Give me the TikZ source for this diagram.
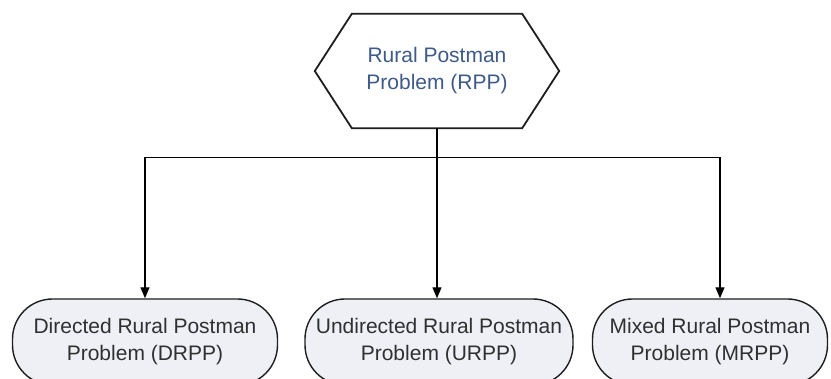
\documentclass[tikz,border=0pt]{standalone}
\usepackage{fontspec}
\setmainfont{Liberation Sans}
\usetikzlibrary{arrows.meta,calc}
\definecolor{toptext}{HTML}{3E5A88}
\definecolor{leaftext}{HTML}{303030}
\definecolor{leaffill}{HTML}{EEF0F6}
\definecolor{edge}{HTML}{1E1E1E}
\tikzset{
  hexlabel/.style={minimum width=244pt, minimum height=114pt, inner sep=0pt,
    align=center, text=toptext, font=\fontsize{21pt}{27pt}\selectfont},
  hexline/.style={draw=edge, line width=1.8pt, fill=white, line join=miter},
  leafbox/.style={draw=edge, line width=1.4pt, fill=leaffill, rectangle,
    rounded corners=40pt, minimum height=86pt, inner sep=0pt, align=center,
    text=leaftext, font=\fontsize{21pt}{27pt}\selectfont},
  link/.style={draw=black, line width=1.3pt,
    -{Triangle[length=11pt,width=9pt]}},
  bus/.style={draw=black, line width=1.3pt}
}
\begin{document}
\begin{tikzpicture}[x=1pt,y=-1pt]
  \useasboundingbox (0,0) rectangle (831,379);
  \clip (0,0) rectangle (831,379);

  % root problem: hexagon drawn around a named label node
  \node[hexlabel] (rpp) at (437,71) {};
  \path[hexline]
    ($(rpp.north west)+(37,0)$) -- ($(rpp.north east)+(-37,0)$) -- (rpp.east)
    -- ($(rpp.south east)+(-37,0)$) -- ($(rpp.south west)+(37,0)$) -- (rpp.west)
    -- cycle;
  \node[hexlabel] at (rpp.center) {Rural Postman\\Problem (RPP)};

  % the three variants
  \node[leafbox, minimum width=265pt] (drpp) at (145,342)
    {Directed Rural Postman\\Problem (DRPP)};
  \node[leafbox, minimum width=268pt] (urpp) at (439,342)
    {Undirected Rural Postman\\Problem (URPP)};
  \node[leafbox, minimum width=235pt] (mrpp) at (710,342)
    {Mixed Rural Postman\\Problem (MRPP)};

  % connectors
  \coordinate (split) at ($(rpp.south)+(0,29)$);
  \coordinate (mrppin) at ($(mrpp.north)+(10,0)$);
  \path[bus] (rpp.south) -- (split);
  \path[link] (split) -| (drpp.north);
  \path[link] (split) -- (split |- urpp.north);
  \path[link] (split) -| (mrppin);
\end{tikzpicture}
\end{document}
